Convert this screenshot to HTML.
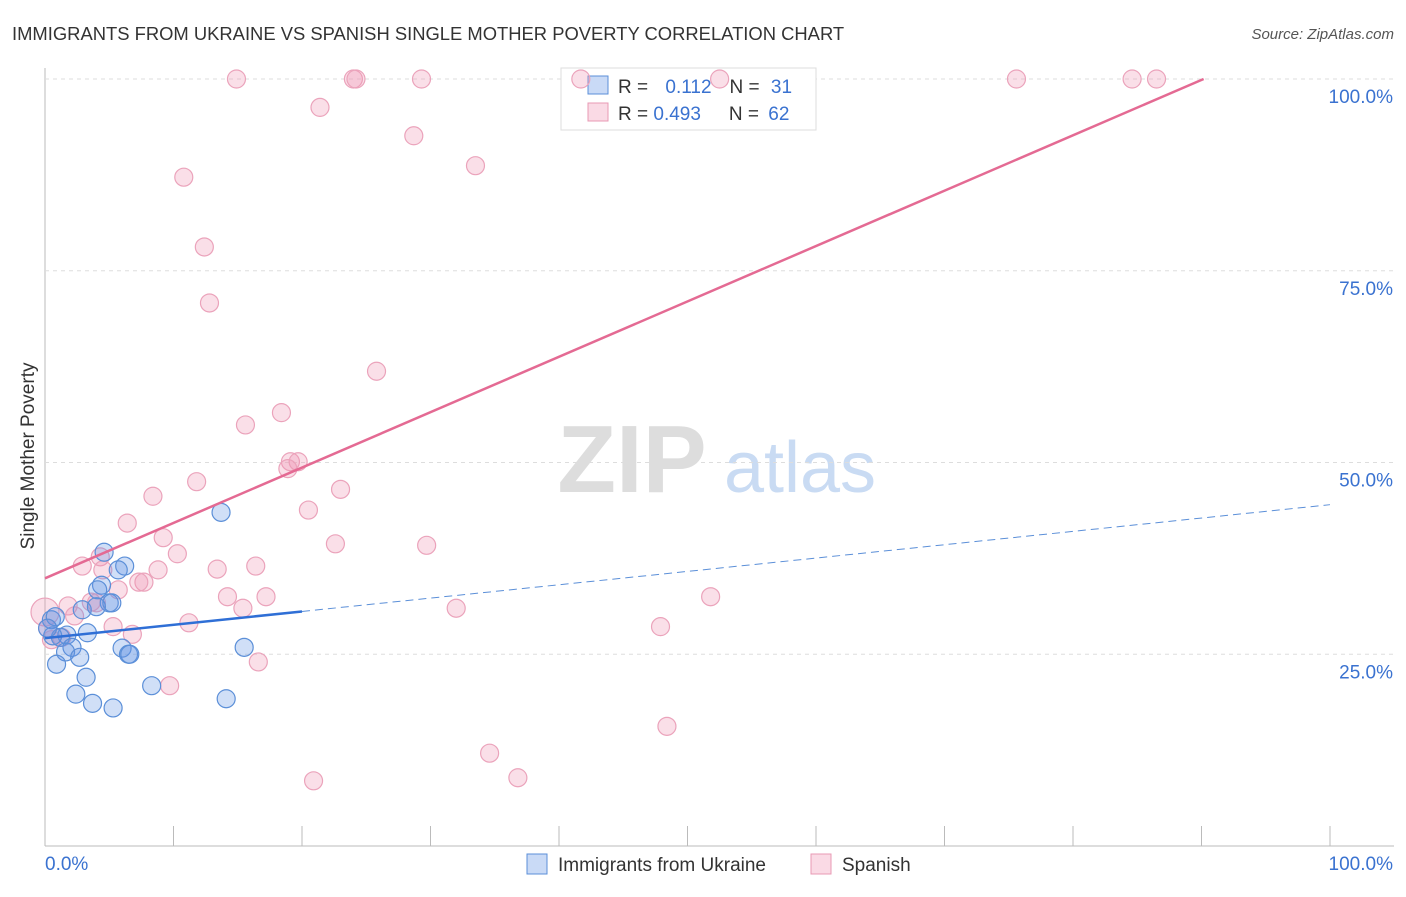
<!DOCTYPE html>
<html><head><meta charset="utf-8"><style>
body{margin:0;background:#fff;font-family:"Liberation Sans",sans-serif}
svg text{font-family:"Liberation Sans",sans-serif}
</style></head><body>
<svg id="chart" width="1406" height="892" xmlns="http://www.w3.org/2000/svg">
<text x="12" y="40" font-size="18.4" fill="#333">IMMIGRANTS FROM UKRAINE VS SPANISH SINGLE MOTHER POVERTY CORRELATION CHART</text>
<text x="1394" y="39" font-size="15" fill="#555" text-anchor="end" font-style="italic">Source: ZipAtlas.com</text>
<text x="632" y="492" font-size="96" fill="#ddd" font-family="Liberation Serif" text-anchor="middle" font-weight="bold">ZIP</text>
<text x="800" y="492" font-size="72" fill="#c9dbf3" text-anchor="middle">atlas</text>
<text x="34" y="456" font-size="19" fill="#333" text-anchor="middle" transform="rotate(-90 34 456)">Single Mother Poverty</text>
<g id="grid"></g>
<g>
<rect x="561" y="68" width="255" height="62" fill="#fff" stroke="#ddd"/>
<rect x="588" y="76" width="20" height="18" fill="rgba(100,150,230,0.35)" stroke="#5b8fd8"/>
<rect x="588" y="103" width="20" height="18" fill="rgba(240,150,180,0.35)" stroke="#e89ab4"/>
<text x="618" y="93" font-size="19" fill="#333">R = <tspan fill="#3a72d0" dx="12">0.112</tspan><tspan dx="18" fill="#333">N = </tspan><tspan fill="#3a72d0" dx="6">31</tspan></text>
<text x="618" y="120" font-size="19" fill="#333">R = <tspan fill="#3a72d0">0.493</tspan><tspan dx="28" fill="#333">N = </tspan><tspan fill="#3a72d0" dx="4">62</tspan></text>
</g>
<g id="pts"></g><g id="lines"></g>
<g>
<rect x="527" y="854" width="20" height="20" fill="rgba(100,150,230,0.35)" stroke="#5b8fd8"/>
<text x="558" y="871" font-size="19" fill="#333">Immigrants from Ukraine</text>
<rect x="811" y="854" width="20" height="20" fill="rgba(240,150,180,0.35)" stroke="#e89ab4"/>
<text x="842" y="871" font-size="19" fill="#333">Spanish</text>
</g>
</svg>
<script>
const yTicks=[25,50,75,100];
const yTickLabels=["25.0%","50.0%","75.0%","100.0%"];
const xTickLabels=["0.0%","100.0%"];
const ukraineX=[13.7,4.6,6.2,5.7,4.4,4.1,2.9,5.0,5.2,4.0,0.5,0.8,3.3,1.7,1.2,0.6,2.1,1.6,2.7,6.0,6.5,6.6,15.5,0.9,3.2,8.3,2.4,3.7,5.3,14.1,0.2];
const ukraineY=[43.5,38.3,36.5,36.0,34.0,33.4,30.8,31.7,31.7,31.2,29.5,29.9,27.8,27.5,27.2,27.4,25.9,25.3,24.6,25.8,25.0,25.0,25.9,23.7,22.0,20.9,19.8,18.6,18.0,19.2,28.4];
const spanishX=[14.9,24.0,24.2,29.3,41.7,52.5,75.6,84.6,86.5,21.4,28.7,33.5,10.8,12.4,12.8,25.8,18.4,15.6,19.1,19.7,18.9,23.0,11.8,8.4,20.5,6.4,9.2,22.6,29.7,4.3,10.3,2.9,4.5,8.8,13.4,16.4,7.7,7.3,5.7,14.2,17.2,51.8,3.6,4.0,1.8,0.0,32.0,2.3,15.4,11.2,5.3,47.9,6.8,0.5,16.6,9.7,48.4,34.6,36.8,20.9,0.2,1.3];
const spanishY=[100,100,100,100,100,100,100,100,100,96.3,92.6,88.7,87.2,78.1,70.8,61.9,56.5,54.9,50.1,50.1,49.2,46.5,47.5,45.6,43.8,42.1,40.2,39.4,39.2,37.7,38.1,36.5,36.0,36.0,36.1,36.5,34.4,34.4,33.4,32.5,32.5,32.5,31.8,31.7,31.3,30.5,31.0,30.0,31.0,29.1,28.6,28.6,27.6,26.9,24.0,20.9,15.6,12.1,8.9,8.5,28.4,27.2];
const blueTrend=[27.1,0.174];
const pinkTrend=[34.9,0.722];
const NS="http://www.w3.org/2000/svg";
const X=v=>45+v*12.85, Y=v=>846-v*7.67;
function mk(tag,attrs,parent){const e=document.createElementNS(NS,tag);for(const k in attrs)e.setAttribute(k,attrs[k]);parent.appendChild(e);return e;}
const grid=document.getElementById('grid'),pts=document.getElementById('pts'),lines=document.getElementById('lines');
let ax=mk('line',{x1:45,y1:68,x2:45,y2:846,stroke:'#bbb'},grid);


let bx=mk('line',{x1:45,y1:846,x2:1394,y2:846,stroke:'#bbb'},grid);


yTicks.forEach((t,i)=>{
 let g=mk('line',{x1:45,y1:Y(t),x2:1394,y2:Y(t),stroke:'#ddd','stroke-dasharray':'4,4'},grid);
 
 
 let tx=mk('text',{x:1393,y:Y(t)+24,'font-size':19,fill:'#3a72d0','text-anchor':'end'},grid);
 tx.textContent=yTickLabels[i];
 
 
});
for(let i=0;i<=10;i++){
 let t=mk('line',{x1:X(i*10),y1:826,x2:X(i*10),y2:846,stroke:'#bbb'},grid);
 
 
}
[[0,'start',45],[100,'end',1393]].forEach((d,i)=>{
 let tx=mk('text',{x:d[2],y:870,'font-size':19,fill:'#3a72d0','text-anchor':d[1]},grid);
 tx.textContent=xTickLabels[i];
 
 
});
spanishX.forEach((x,i)=>{
 let c=mk('circle',{cx:X(x),cy:Y(spanishY[i]),r:(x===0?14:9),fill:'rgba(240,150,180,0.3)',stroke:'#eba3bb','stroke-width':1.2},pts);
 
 
});
ukraineX.forEach((x,i)=>{
 let c=mk('circle',{cx:X(x),cy:Y(ukraineY[i]),r:9,fill:'rgba(100,150,230,0.3)',stroke:'#5b8fd8','stroke-width':1.2},pts);
 
 
});
let pe=(100-pinkTrend[0])/pinkTrend[1];
let pl=mk('line',{x1:X(0),y1:Y(pinkTrend[0]),x2:X(pe),y2:Y(100),stroke:'#e46a93','stroke-width':2.5},lines);


let bl=mk('line',{x1:X(0),y1:Y(blueTrend[0]),x2:X(20),y2:Y(blueTrend[0]+20*blueTrend[1]),stroke:'#2f6fd6','stroke-width':2.5},lines);


let bd=mk('line',{x1:X(20),y1:Y(blueTrend[0]+20*blueTrend[1]),x2:X(100),y2:Y(blueTrend[0]+100*blueTrend[1]),stroke:'#5b8fd8','stroke-width':1,'stroke-dasharray':'8,5'},lines);


</script>
</body></html>
